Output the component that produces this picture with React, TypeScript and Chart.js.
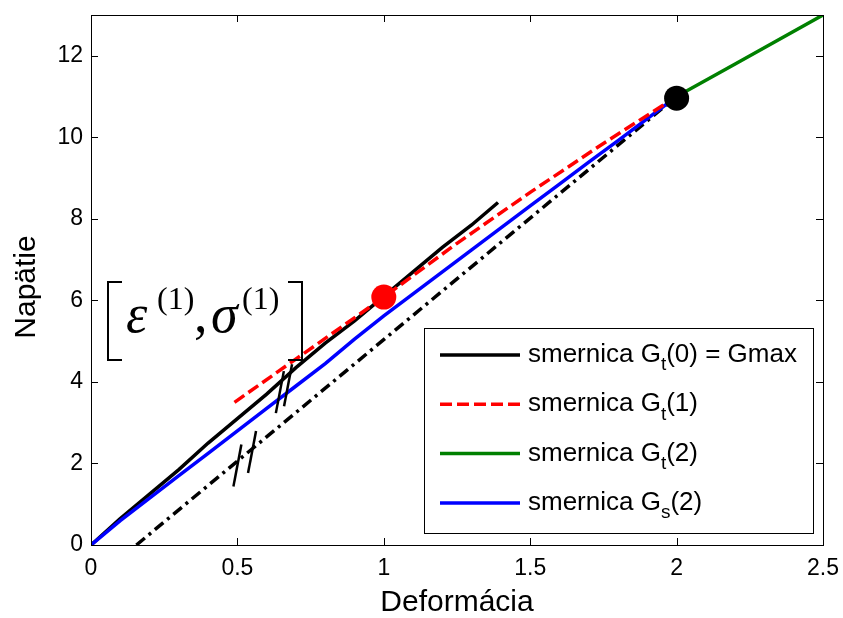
import React, { useEffect, useRef } from "react";
import { Chart, registerables } from "chart.js";
Chart.register(...registerables);

const xTicks = [0, 0.5, 1, 1.5, 2, 2.5];
const yTicks = [0, 2, 4, 6, 8, 10, 12];

// smernica Gt(0) = Gmax (black solid)
const gmaxX = [0, 0.1, 0.2, 0.3, 0.4, 0.5, 0.6, 0.7, 0.8, 0.9, 1.0, 1.1, 1.2, 1.3, 1.39];
const gmaxY = [0, 0.65, 1.25, 1.85, 2.5, 3.1, 3.7, 4.35, 4.95, 5.5, 6.1, 6.7, 7.3, 7.85, 8.4];
// smernica Gt(1) (red dashed)
const gt1X = [0.49, 1.0, 1.25, 1.5, 1.75, 2.0];
const gt1Y = [3.5, 6.08, 7.4, 8.65, 9.85, 11.0];
// smernica Gt(2) (green)
const gt2X = [2.0, 2.2, 2.5];
const gt2Y = [11.0, 11.8, 13.0];
// smernica Gs(2) (blue)
const gsX = [0, 0.1, 0.2, 0.3, 0.4, 0.5, 0.6, 0.7, 0.8, 0.9, 1.0, 1.1, 1.2, 1.3, 1.4, 1.5, 1.6, 1.7, 1.8, 1.9, 2.0];
const gsY = [0, 0.6, 1.15, 1.7, 2.25, 2.8, 3.35, 3.9, 4.45, 5.05, 5.62, 6.16, 6.7, 7.24, 7.78, 8.32, 8.85, 9.39, 9.92, 10.46, 11.0];
// unloading line (black dash-dot)
const unloadX = [0.155, 2.0];
const unloadY = [0, 11.0];
// marked points
const redPointX = [1.0];
const redPointY = [6.08];
const blackPointX = [2.0];
const blackPointY = [10.96];
// hash marks (centres)
const hashX = [0.645, 0.673, 0.5, 0.55];
const hashY = [3.75, 3.92, 1.95, 2.28];

const legendLabels = [
  ["smernica G", "t", "(0) = Gmax"],
  ["smernica G", "t", "(1)"],
  ["smernica G", "t", "(2)"],
  ["smernica G", "s", "(2)"],
];

const xTitle = "Deformácia";
const yTitle = "Napätie";

const zip = (xs: number[], ys: number[]) => xs.map((x, i) => ({ x, y: ys[i] }));

const SANS = "'Liberation Sans', Arial, sans-serif";
const SERIF = "'Liberation Serif', 'Times New Roman', serif";

const overlay = {
  id: "overlay",
  afterDatasetsDraw(chart: any) {
    const { ctx, scales } = chart;
    const xs = scales.x, ys = scales.y;
    ctx.save();
    ctx.strokeStyle = "#000";
    ctx.lineWidth = 2.5;
    for (let i = 0; i < hashX.length; i++) {
      const px = xs.getPixelForValue(hashX[i]);
      const py = ys.getPixelForValue(hashY[i]);
      ctx.beginPath();
      ctx.moveTo(px + 4, py - 21);
      ctx.lineTo(px - 4, py + 21);
      ctx.stroke();
    }
    ctx.restore();
  },
  afterDraw(chart: any) {
    const { ctx, chartArea: ca, scales } = chart;
    const xs = scales.x, ys = scales.y;
    ctx.save();
    // axes box
    ctx.strokeStyle = "#000";
    ctx.lineWidth = 1;
    ctx.strokeRect(Math.round(ca.left) + 0.5, Math.round(ca.top) + 0.5, Math.round(ca.right - ca.left), Math.round(ca.bottom - ca.top));
    // inward ticks
    const tl = 7;
    ctx.beginPath();
    xTicks.forEach((v) => {
      const px = Math.round(xs.getPixelForValue(v)) + 0.5;
      ctx.moveTo(px, ca.bottom);
      ctx.lineTo(px, ca.bottom - tl);
      ctx.moveTo(px, ca.top);
      ctx.lineTo(px, ca.top + tl);
    });
    yTicks.forEach((v) => {
      const py = Math.round(ys.getPixelForValue(v)) + 0.5;
      ctx.moveTo(ca.left, py);
      ctx.lineTo(ca.left + tl, py);
      ctx.moveTo(ca.right, py);
      ctx.lineTo(ca.right - tl, py);
    });
    ctx.stroke();

    // axis titles
    ctx.fillStyle = "#000";
    ctx.font = `30px ${SANS}`;
    ctx.textAlign = "center";
    ctx.textBaseline = "middle";
    ctx.fillText(xTitle, (ca.left + ca.right) / 2, 603);
    ctx.save();
    ctx.translate(27, 287);
    ctx.rotate(-Math.PI / 2);
    ctx.fillText(yTitle, 0, 0);
    ctx.restore();

    // annotation [eps(1), sigma(1)]
    const ax = ca.left, ay = ca.top;
    ctx.lineWidth = 2;
    ctx.beginPath();
    ctx.moveTo(ax + 31, ay + 267);
    ctx.lineTo(ax + 17, ay + 267);
    ctx.lineTo(ax + 17, ay + 345);
    ctx.lineTo(ax + 31, ay + 345);
    ctx.moveTo(ax + 197, ay + 267);
    ctx.lineTo(ax + 211, ay + 267);
    ctx.lineTo(ax + 211, ay + 345);
    ctx.lineTo(ax + 197, ay + 345);
    ctx.stroke();
    ctx.textAlign = "left";
    ctx.textBaseline = "alphabetic";
    ctx.font = `italic 54px ${SERIF}`;
    ctx.fillText("ε", ax + 35, ay + 317);
    ctx.fillText("σ", ax + 120, ay + 317);
    ctx.font = `54px ${SERIF}`;
    ctx.fillText(",", ax + 103, ay + 317);
    ctx.font = `32px ${SERIF}`;
    ctx.fillText("(1)", ax + 66, ay + 294);
    ctx.fillText("(1)", ax + 151, ay + 294);

    // legend
    const lx = 424, ly = 328, lw = 389, lh = 205;
    ctx.fillStyle = "#fff";
    ctx.fillRect(lx, ly, lw, lh);
    ctx.lineWidth = 1;
    ctx.strokeStyle = "#000";
    ctx.strokeRect(lx + 0.5, ly + 0.5, lw, lh);
    const dsIdx = [0, 1, 2, 3];
    legendLabels.forEach((parts, i) => {
      const ds = chart.data.datasets[dsIdx[i]];
      const cy = 355 + i * 49.3;
      ctx.strokeStyle = ds.borderColor;
      ctx.lineWidth = ds.borderWidth;
      ctx.setLineDash(ds.borderDash || []);
      ctx.beginPath();
      ctx.moveTo(440, cy);
      ctx.lineTo(520, cy);
      ctx.stroke();
      ctx.setLineDash([]);
      ctx.fillStyle = "#000";
      ctx.textBaseline = "middle";
      ctx.font = `26px ${SANS}`;
      let x = 528;
      ctx.fillText(parts[0], x, cy);
      x += ctx.measureText(parts[0]).width;
      ctx.font = `19px ${SANS}`;
      ctx.fillText(parts[1], x, cy + 10);
      x += ctx.measureText(parts[1]).width;
      ctx.font = `26px ${SANS}`;
      ctx.fillText(parts[2], x, cy);
    });
    ctx.restore();
  },
};

export default function App() {
  const ref = useRef<HTMLCanvasElement>(null);
  useEffect(() => {
    document.body.style.margin = "0";
    const chart = new Chart(ref.current!, {
      type: "scatter",
      data: {
        datasets: [
          { label: "smernica Gt(0) = Gmax", data: zip(gmaxX, gmaxY), showLine: true, borderColor: "#000", backgroundColor: "#000", borderWidth: 3.5, pointRadius: 0, order: 3 },
          { label: "smernica Gt(1)", data: zip(gt1X, gt1Y), showLine: true, borderColor: "#ff0000", backgroundColor: "#ff0000", borderWidth: 3.5, borderDash: [12, 5], pointRadius: 0, order: 1 },
          { label: "smernica Gt(2)", data: zip(gt2X, gt2Y), showLine: true, borderColor: "#008000", backgroundColor: "#008000", borderWidth: 3.5, pointRadius: 0, order: 5 },
          { label: "smernica Gs(2)", data: zip(gsX, gsY), showLine: true, borderColor: "#0000ff", backgroundColor: "#0000ff", borderWidth: 3.5, pointRadius: 0, order: 2 },
          { label: "unload", data: zip(unloadX, unloadY), showLine: true, borderColor: "#000", backgroundColor: "#000", borderWidth: 3.5, borderDash: [11, 5, 3, 5], pointRadius: 0, order: 4 },
          { label: "p1", data: zip(redPointX, redPointY), showLine: false, pointRadius: 12.5, pointBackgroundColor: "#ff0000", pointBorderColor: "#ff0000", borderWidth: 0, order: 0 },
          { label: "p2", data: zip(blackPointX, blackPointY), showLine: false, pointRadius: 12.5, pointBackgroundColor: "#000", pointBorderColor: "#000", borderWidth: 0, order: 0 },
        ],
      },
      options: {
        animation: false,
        responsive: false,
        devicePixelRatio: 1,
        layout: { padding: { top: 15, right: 20, left: 0, bottom: 0 } },
        plugins: { legend: { display: false }, tooltip: { enabled: false } },
        elements: { line: { tension: 0 } },
        scales: {
          x: {
            type: "linear",
            min: 0,
            max: 2.5,
            grid: { display: false, drawTicks: false },
            border: { display: false },
            afterBuildTicks: (s: any) => { s.ticks = xTicks.map((v) => ({ value: v })); },
            afterFit: (s: any) => { s.height = 73; s.paddingLeft = 0; s.paddingRight = 0; s.paddingTop = 0; s.paddingBottom = 0; },
            ticks: { color: "#000", font: { family: SANS, size: 23 }, padding: 10, maxRotation: 0, autoSkip: false, callback: (v: any) => String(v) },
          },
          y: {
            type: "linear",
            min: 0,
            max: 13,
            grid: { display: false, drawTicks: false },
            border: { display: false },
            afterBuildTicks: (s: any) => { s.ticks = yTicks.map((v) => ({ value: v })); },
            afterFit: (s: any) => { s.width = 91; s.paddingLeft = 0; s.paddingRight = 0; s.paddingTop = 0; s.paddingBottom = 0; },
            ticks: { color: "#000", font: { family: SANS, size: 23 }, padding: 8, autoSkip: false, callback: (v: any) => String(v) },
          },
        },
      },
      plugins: [overlay],
    });
    return () => chart.destroy();
  }, []);
  return (
    <div style={{ position: "fixed", left: 0, top: 0, width: 843, height: 618, background: "#fff" }}>
      <canvas ref={ref} width={843} height={618} />
    </div>
  );
}
